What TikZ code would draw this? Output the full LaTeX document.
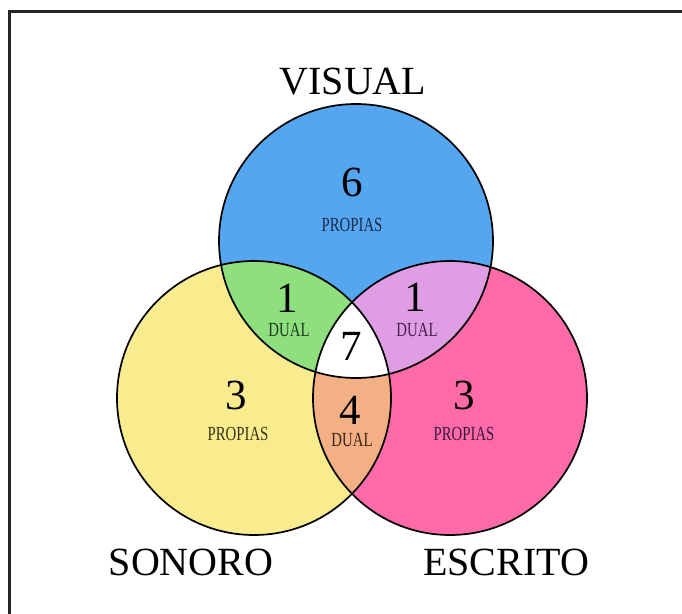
\documentclass[tikz,border=0pt]{standalone}
\usepackage{fontspec}
\setmainfont{Liberation Serif}
\definecolor{cvis}{HTML}{55A6F0}
\definecolor{cson}{HTML}{F9EC8F}
\definecolor{cesc}{HTML}{FF6AA8}
\definecolor{cvs}{HTML}{8EE07E}
\definecolor{cve}{HTML}{DF9DE3}
\definecolor{cse}{HTML}{F2B084}
\definecolor{tblue}{HTML}{1C2A48}
\definecolor{tyel}{HTML}{3A3212}
\definecolor{tgreen}{HTML}{1E3A1A}
\definecolor{tpurp}{HTML}{4A1E4C}
\definecolor{torange}{HTML}{3C2412}
\tikzset{
  big/.style={inner sep=0pt, font=\fontsize{40}{40}\selectfont},
  num/.style={inner sep=0pt, font=\fontsize{43}{43}\selectfont},
  small/.style={inner sep=0pt},
  ring/.style={draw=black, line width=1.7pt}
}
\newcommand{\lbl}[1]{\scalebox{0.74}[1]{\fontsize{20}{20}\selectfont #1}}
\begin{document}
\begin{tikzpicture}[x=1pt,y=-1pt]
\useasboundingbox (0,0) rectangle (682,613);
\begin{scope}
\clip (0,0) rectangle (682,613);
\draw[line width=2.2pt, black!85] (9.5,11.5) rectangle (720,660);
\end{scope}
\coordinate (V) at (356,241);
\coordinate (S) at (254,398);
\coordinate (E) at (450,398);
% base fills
\fill[cvis] (V) circle (137);
\fill[cson] (S) circle (137);
\fill[cesc] (E) circle (137);
% pairwise
\begin{scope}\clip (V) circle (137); \fill[cvs] (S) circle (137);\end{scope}
\begin{scope}\clip (V) circle (137); \fill[cve] (E) circle (137);\end{scope}
\begin{scope}\clip (S) circle (137); \fill[cse] (E) circle (137);\end{scope}
\begin{scope}\clip (V) circle (137); \clip (S) circle (137); \fill[white] (E) circle (137);\end{scope}
% outlines
\draw[ring] (V) circle (137);
\draw[ring] (S) circle (137);
\draw[ring] (E) circle (137);
% titles
\node[big] (tv) at (353,82) {VISUAL};
\node[big] (ts) at (191,562) {SONORO};
\node[big] (te) at (506,562) {ESCRITO};
% numbers
\node[num] (n6) at (352,182) {6};
\node[small, text=tblue] (p6) at (352,225) {\lbl{PROPIAS}};
\node[num] (n1a) at (287,298) {1};
\node[small, text=tgreen] (d1a) at (289,330) {\lbl{DUAL}};
\node[num] (n1b) at (415,297) {1};
\node[small, text=tpurp] (d1b) at (417,330) {\lbl{DUAL}};
\node[num] (n7) at (351,346) {7};
\node[num] (n3a) at (236,395) {3};
\node[small, text=tyel] (p3a) at (238,434) {\lbl{PROPIAS}};
\node[num] (n4) at (350,410) {4};
\node[small, text=torange] (d4) at (352,440) {\lbl{DUAL}};
\node[num] (n3b) at (464,395) {3};
\node[small, text=tpurp!80!black] (p3b) at (464,434) {\lbl{PROPIAS}};
\end{tikzpicture}
\end{document}
